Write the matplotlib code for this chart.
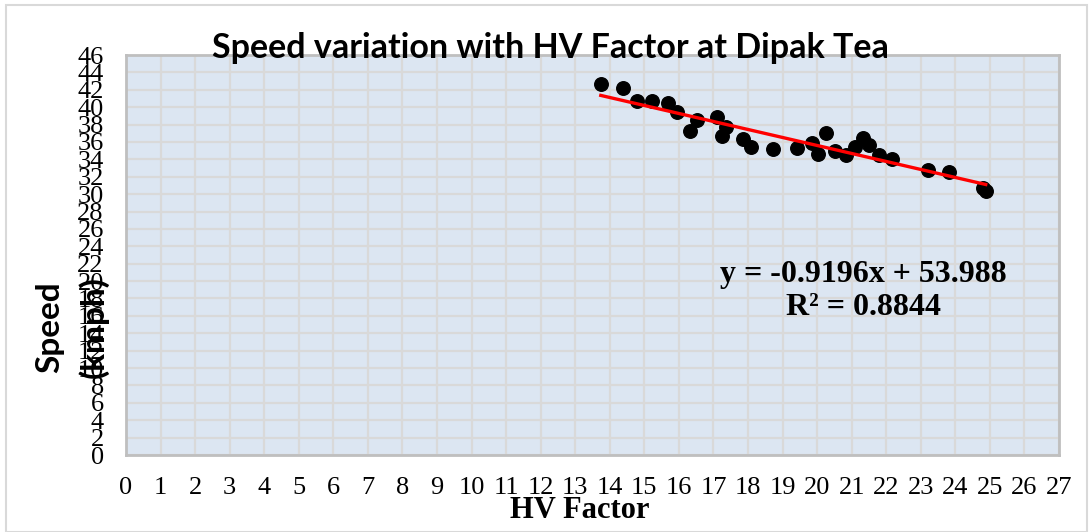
import numpy as np
import matplotlib
matplotlib.use("Agg")
import matplotlib.pyplot as plt
from matplotlib.patches import Rectangle

# HV factor vs speed (kmph)
hv_factor = [13.74, 14.39, 14.78, 15.23, 15.69, 15.95, 16.32, 16.53, 17.09, 17.24,
             17.35, 17.86, 18.10, 18.71, 19.41, 19.84, 20.03, 20.27, 20.53, 20.83,
             21.09, 21.33, 21.49, 21.80, 22.17, 23.20, 23.82, 24.79, 24.88]
speed = [42.66, 42.16, 40.73, 40.66, 40.47, 39.39, 37.27, 38.51, 38.82, 36.63,
         37.74, 36.32, 35.43, 35.16, 35.28, 35.93, 34.67, 37.00, 34.97, 34.51,
         35.47, 36.51, 35.70, 34.47, 34.01, 32.78, 32.59, 30.75, 30.36]

slope = -0.9196
intercept = 53.988
r2 = 0.8844

x_ticks = list(range(0, 28))
y_ticks = list(range(0, 47, 2))

plt.rcParams['font.family'] = ['Liberation Serif', 'DejaVu Sans']

W, H = 1089, 532
fig = plt.figure(figsize=(W / 100, H / 100), dpi=100)
ax = fig.add_axes([126 / W, 1 - 455 / H, (1059 - 126) / W, (455 - 55) / H])

ax.set_facecolor('#dce6f2')
ax.set_xlim(0, 27)
ax.set_ylim(0, 46)
ax.set_xticks(x_ticks)
ax.set_yticks(y_ticks)
ax.grid(True, color='#d9d9d9', linewidth=1.6, zorder=0)
ax.set_axisbelow(True)
for s in ax.spines.values():
    s.set_color('#bfbfbf')
    s.set_linewidth(2)
ax.tick_params(length=0, labelsize=19)
ax.tick_params(axis='x', pad=16)
ax.tick_params(axis='y', pad=16)

ax.scatter(hv_factor, speed, s=95, color='black', zorder=3)

xs = np.array([min(hv_factor), max(hv_factor)])
ax.plot(xs, slope * xs + intercept, color='#ff0000', linewidth=2.4, zorder=4)

ax.text((863 - 126) / (1059 - 126), 1 - (291 - 55) / (455 - 55),
        'y = %.4fx + %.3f\nR² = %.4f' % (slope, intercept, r2),
        transform=ax.transAxes, ha='center', va='center', multialignment='center',
        fontweight='bold', fontsize=23, linespacing=1.2)

fig.text(550 / W, 1 - 48 / H, 'Speed variation with HV Factor at Dipak Tea',
         ha='center', va='center', fontfamily='Lato', fontweight='bold', fontsize=24.5)
fig.text(580 / W, 1 - 510 / H, 'HV Factor', ha='center', va='center',
         fontweight='bold', fontsize=22)
fig.text(72 / W, 1 - 327 / H, 'Speed\n(kmph)', rotation=90, ha='center', va='center',
         multialignment='center', fontfamily='Lato', fontweight='bold', fontsize=24,
         linespacing=1.5)

fig.patches.append(Rectangle((6 / W, 0.0), (1087 - 6) / W, (H - 5) / H,
                             transform=fig.transFigure, fill=False,
                             edgecolor='#d9d9d9', linewidth=1.5))

fig.savefig('out.png', dpi=100)
